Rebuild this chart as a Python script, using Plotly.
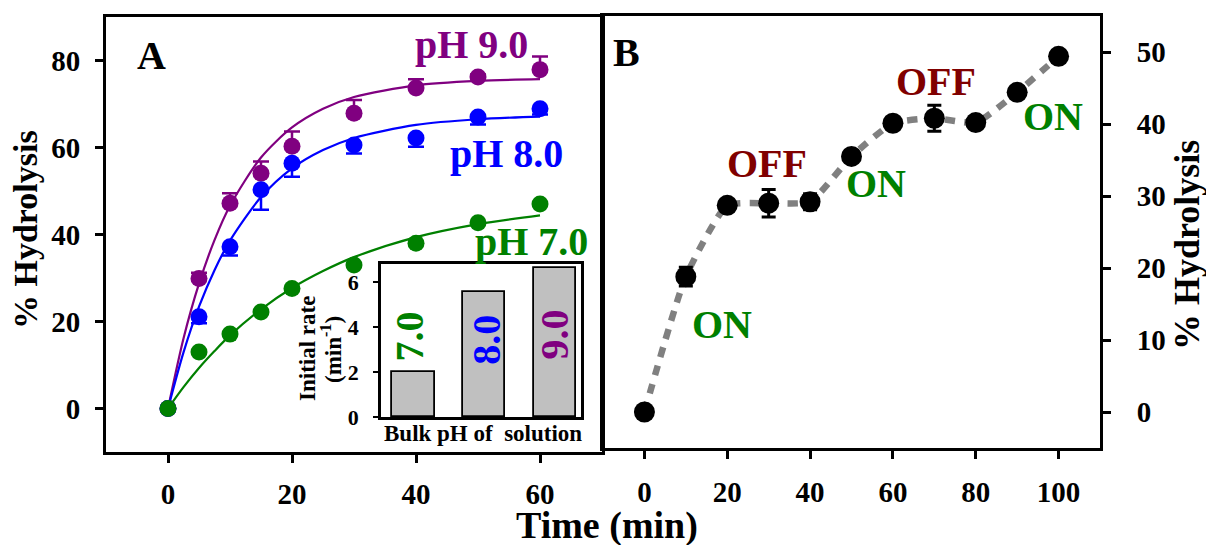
import plotly.graph_objects as go

# ---------------- Panel A data ----------------
time_a = [0, 5, 10, 15, 20, 30, 40, 50, 60]
ph9_vals = [0, 29.9, 47.2, 54.1, 60.3, 67.9, 73.7, 76.2, 77.9]
ph9_err = [0, 1.3, 2.3, 2.7, 3.4, 3.0, 2.0, 0.6, 3.0]
ph8_vals = [0, 21.1, 37.2, 50.3, 56.4, 60.6, 62.2, 67.0, 68.9]
ph8_err = [0, 1.5, 2.0, 4.6, 3.1, 2.0, 2.0, 1.7, 1.3]
ph7_vals = [0, 13.0, 17.1, 22.2, 27.6, 33.0, 38.0, 42.7, 47.0]

# fitted curves
fit_t = [0, 2.5, 5, 7.5, 10, 15, 20, 25, 30, 40, 50, 60]
fit_ph9 = [0, 16.1, 28.7, 38.7, 46.6, 57.7, 64.6, 68.9, 71.6, 74.3, 75.3, 75.7]
fit_ph8 = [0, 12.9, 23.4, 31.8, 38.6, 48.6, 55.2, 59.4, 62.2, 65.2, 66.5, 67.1]
fit_ph7 = [0, 4.9, 9.3, 13.2, 16.8, 22.8, 27.7, 31.6, 34.8, 39.4, 42.4, 44.4]

# inset bars
inset_pos = [0, 1, 2]
inset_labels = ["7.0", "8.0", "9.0"]
inset_rates = [2.0, 5.56, 6.62]

# ---------------- Panel B data ----------------
time_b = [0, 10, 20, 30, 40, 50, 60, 70, 80, 90, 100]
hyd_b = [0, 18.8, 28.7, 29.0, 29.2, 35.5, 40.1, 40.8, 40.2, 44.4, 49.4]
hyd_b_err = [0, 1.3, 0.5, 1.9, 1.1, 0.5, 0.5, 1.8, 0.5, 0.5, 0.3]

PURPLE = "#800080"
BLUE = "#0000ff"
GREEN = "#008000"
DARKRED = "#800000"
FONT = "Liberation Serif"

W, H = 1206, 545
def px(x):
    return x / W
def py(y):
    return 1 - y / H

fig = go.Figure()

# Panel A fit curves
for t, v, c in [(fit_t, fit_ph9, PURPLE), (fit_t, fit_ph8, BLUE), (fit_t, fit_ph7, GREEN)]:
    fig.add_trace(go.Scatter(x=t, y=v, mode="lines", line=dict(color=c, width=2.2, shape="spline", smoothing=0.8),
                             xaxis="x", yaxis="y", showlegend=False, hoverinfo="skip"))

# Panel A points
fig.add_trace(go.Scatter(x=time_a, y=ph9_vals, mode="markers", marker=dict(color=PURPLE, size=17),
                         error_y=dict(type="data", array=ph9_err, arrayminus=[0]*len(ph9_err), symmetric=False,
                                      color=PURPLE, thickness=2.5, width=8),
                         xaxis="x", yaxis="y", showlegend=False))
fig.add_trace(go.Scatter(x=time_a, y=ph8_vals, mode="markers", marker=dict(color=BLUE, size=17),
                         error_y=dict(type="data", array=[0]*len(ph8_err), arrayminus=ph8_err, symmetric=False,
                                      color=BLUE, thickness=2.5, width=8),
                         xaxis="x", yaxis="y", showlegend=False))
fig.add_trace(go.Scatter(x=time_a, y=ph7_vals, mode="markers", marker=dict(color=GREEN, size=17),
                         xaxis="x", yaxis="y", showlegend=False))

# Inset bars
fig.add_trace(go.Bar(x=inset_pos, y=inset_rates, width=0.6,
                     marker=dict(color="#c0c0c0", line=dict(color="black", width=1.8)),
                     xaxis="x3", yaxis="y3", showlegend=False))

# Panel B
fig.add_trace(go.Scatter(x=time_b, y=hyd_b, mode="lines",
                         line=dict(color="#808080", width=6.5, dash="10px,9px", shape="spline", smoothing=0.5),
                         xaxis="x2", yaxis="y2", showlegend=False, hoverinfo="skip"))
fig.add_trace(go.Scatter(x=time_b, y=hyd_b, mode="markers", marker=dict(color="black", size=21),
                         error_y=dict(type="data", array=hyd_b_err, color="black", thickness=3, width=7),
                         xaxis="x2", yaxis="y2", showlegend=False))

axis_common = dict(showgrid=False, zeroline=False, showline=True, linecolor="black", mirror=True,
                   ticks="outside", tickcolor="black", automargin=False)
tickfont = dict(family=FONT, size=29, color="black", weight="bold")

fig.update_layout(
    width=W, height=H, margin=dict(l=0, r=0, t=0, b=0, pad=0, autoexpand=False),
    paper_bgcolor="white", plot_bgcolor="white",
    font=dict(family=FONT, color="black"),
    showlegend=False,
    xaxis=dict(domain=[px(106), px(602)], range=[-10, 70], tickvals=[0, 20, 40, 60], anchor="y",
               linewidth=3, ticklen=8, tickwidth=2.5, tickfont=tickfont, ticklabelstandoff=6, **axis_common),
    yaxis=dict(domain=[py(452), py(17)], range=[-10, 90], tickvals=[0, 20, 40, 60, 80], anchor="x",
               linewidth=3, ticklen=8, tickwidth=2.5, tickfont=tickfont, ticklabelstandoff=9, **axis_common),
    xaxis2=dict(domain=[px(603), px(1100)], range=[-10, 110], tickvals=[0, 20, 40, 60, 80, 100], anchor="y2",
                linewidth=3, ticklen=8, tickwidth=2.5, tickfont=tickfont, ticklabelstandoff=8, **axis_common),
    yaxis2=dict(domain=[py(448), py(16)], range=[-5, 55], tickvals=[0, 10, 20, 30, 40, 50], anchor="x2",
                side="right", linewidth=3, ticklen=8, tickwidth=2.5, tickfont=tickfont, ticklabelstandoff=20,
                **axis_common),
    xaxis3=dict(domain=[px(381), px(581)], range=[-0.456, 2.37], anchor="y3", showticklabels=False,
                showgrid=False, zeroline=False, showline=True, linecolor="black", linewidth=2.5, mirror=True,
                ticks="", automargin=False),
    yaxis3=dict(domain=[py(417), py(264)], range=[0, 6.8], tickvals=[0, 2, 4, 6], anchor="x3",
                showgrid=False, zeroline=False, showline=True, linecolor="black", linewidth=2.5, mirror=True,
                ticks="outside", ticklen=5, tickwidth=2, tickcolor="black", automargin=False,
                tickfont=dict(family=FONT, size=22, color="black", weight="bold"), ticklabelstandoff=10),
    bargap=0,
)

def bold(size, color="black"):
    return dict(family=FONT, size=size, color=color, weight="bold")

def note(text, x, y, size, color="black", xref="paper", yref="paper", angle=0):
    return dict(text=text, x=x, y=y, xref=xref, yref=yref, textangle=angle, showarrow=False,
                font=bold(size, color), xanchor="center", yanchor="middle")

ann = []
# axis titles
ann.append(note("% Hydrolysis", px(25), py(230), 34, angle=-90))
ann.append(note("% Hydrolysis", px(1187), py(245), 36, angle=-90))
ann.append(note("Time (min)", px(607), py(525), 38))
ann.append(note("A", px(151), py(55), 40))
ann.append(note("B", px(626), py(52), 40))

# pH labels
ann.append(note("pH 9.0", 49.0, 83.7, 40, PURPLE, "x", "y"))
ann.append(note("pH 8.0", 54.6, 58.6, 40, BLUE, "x", "y"))
ann.append(note("pH 7.0", 58.7, 38.3, 40, GREEN, "x", "y"))

# inset labels
ann.append(note(inset_labels[0], -0.05, 3.57, 40, GREEN, "x3", "y3", -90))
ann.append(note(inset_labels[1], 1.03, 3.44, 40, BLUE, "x3", "y3", -90))
ann.append(note(inset_labels[2], 2.0, 3.66, 40, PURPLE, "x3", "y3", -90))
ann.append(note("Initial rate", px(307), py(349), 23, angle=-90))
ann.append(note("(min<sup>-1</sup>)", px(331), py(350), 23, angle=-90))
ann.append(note("Bulk pH of\u00a0 solution", px(483), py(433), 23))

# ON / OFF labels
for txt, x, y, c in [("ON", 18.7, 12.2, GREEN), ("OFF", 29.6, 34.5, DARKRED), ("ON", 56.0, 31.7, GREEN),
                     ("OFF", 70.3, 45.9, DARKRED), ("ON", 98.6, 41.0, GREEN)]:
    ann.append(note(txt, x, y, 40, c, "x2", "y2"))

fig.update_layout(annotations=ann)

fig.write_html("out.html", config={"displayModeBar": False},
               post_script="document.body.style.margin='0';document.body.style.overflow='hidden';")
